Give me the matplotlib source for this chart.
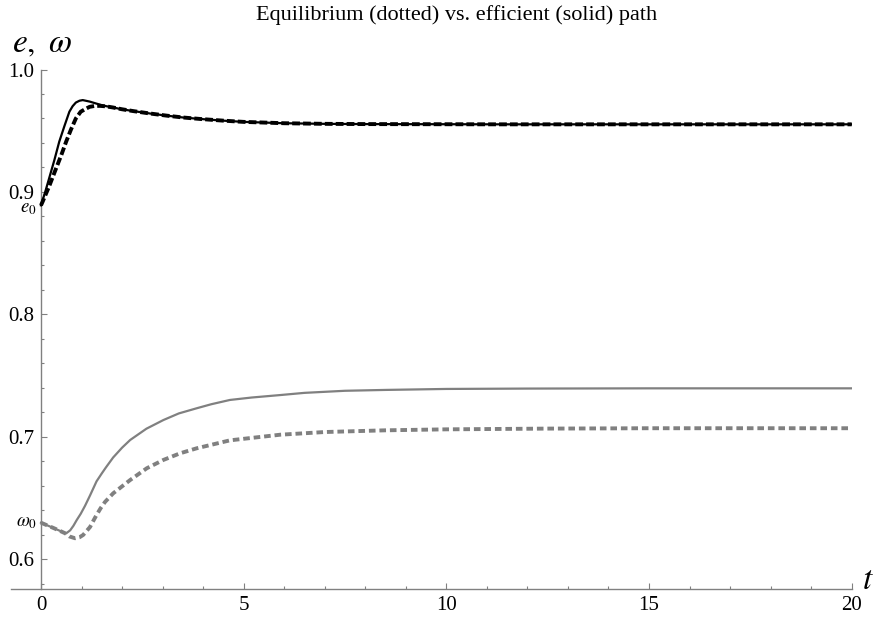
import matplotlib
matplotlib.use("Agg")
import matplotlib.pyplot as plt
from matplotlib.ticker import MultipleLocator, FixedLocator

plt.rcParams['font.family'] = ['Liberation Serif', 'DejaVu Serif']
plt.rcParams['mathtext.fontset'] = 'stix'

# Efficient (solid) path of e
t_e_eff = [0, 0.1, 0.2, 0.33, 0.45, 0.58, 0.70, 0.78, 0.86, 0.95, 1.03, 1.2, 1.36, 1.55, 1.77, 2.0,
           2.28, 2.7, 3.1, 3.5, 3.92, 4.5, 5, 6, 7, 8, 11.3, 15, 20]
e_eff = [0.889, 0.8995, 0.911, 0.926, 0.941, 0.954, 0.9655, 0.970, 0.973, 0.9745, 0.975, 0.9738,
         0.9722, 0.9704, 0.9690, 0.9675, 0.966, 0.9640, 0.9623, 0.9608, 0.9596, 0.9582, 0.9572,
         0.9561, 0.9556, 0.9554, 0.9552, 0.9552, 0.9552]
# Equilibrium (dotted) path of e
t_e_eq = [0, 0.04, 0.2, 0.37, 0.5, 0.62, 0.74, 0.86, 0.98, 1.11, 1.2, 1.32, 1.45, 1.6, 1.77, 2.0,
          2.28, 2.7, 3.1, 3.5, 3.92, 4.5, 5, 6, 7, 8, 11.3, 15, 20]
e_eq = [0.889, 0.892, 0.9045, 0.919, 0.930, 0.941, 0.951, 0.960, 0.9655, 0.968, 0.9695, 0.9702,
        0.9703, 0.9699, 0.9690, 0.9675, 0.966, 0.9640, 0.9623, 0.9608, 0.9596, 0.9582, 0.9572,
        0.9561, 0.9556, 0.9554, 0.9552, 0.9552, 0.9552]
# Efficient (solid) path of omega
t_w_eff = [0, 0.15, 0.3, 0.45, 0.62, 0.72, 0.8, 0.88, 0.98, 1.086, 1.21, 1.37, 1.5, 1.6, 1.78, 2.0,
           2.2, 2.6, 3.02, 3.4, 3.84, 4.2, 4.66, 5.2, 5.9, 6.5, 7.5, 8.5, 10, 12, 15, 20]
w_eff = [0.6297, 0.6276, 0.6255, 0.6233, 0.621, 0.6235, 0.6272, 0.6318, 0.6370, 0.6435, 0.6520,
         0.6635, 0.6700, 0.6748, 0.6830, 0.6910, 0.6973, 0.7065, 0.7136, 0.7190, 0.7232, 0.7265,
         0.730, 0.7320, 0.734, 0.7358, 0.7375, 0.7382, 0.739, 0.7393, 0.7395, 0.7395]
# Equilibrium (dotted) path of omega
t_w_eq = [0, 0.15, 0.3, 0.45, 0.6, 0.7, 0.84, 0.95, 1.04, 1.21, 1.3, 1.37, 1.47, 1.58, 1.78, 2.2,
          2.61, 3.02, 3.43, 3.84, 4.66, 5.9, 7, 8.5, 10, 12.5, 15, 20]
w_eq = [0.6297, 0.6276, 0.6255, 0.6233, 0.6210, 0.6185, 0.617, 0.6178, 0.6197, 0.6262, 0.6318,
        0.6360, 0.6415, 0.6467, 0.6537, 0.6646, 0.6742, 0.681, 0.6864, 0.6905, 0.697, 0.7016,
        0.7038, 0.7052, 0.706, 0.7066, 0.7069, 0.7069]

e0 = 0.889
w0 = 0.6297
y_ticks = [0.6, 0.7, 0.8, 0.9, 1.0]
x_ticks = [0, 5, 10, 15, 20]

W, H = 877, 617
fig = plt.figure(figsize=(W/100, H/100), dpi=100)
ax = fig.add_axes([11/W, (H-589.3)/H, (851.7-11)/W, (589.3-69.5)/H])
ax.set_xlim(-0.74, 20)
ax.set_ylim(0.5753, 1.0)

gray = '#808080'
ax.plot(t_e_eff, e_eff, color='black', lw=1.6, solid_joinstyle='round', zorder=3)
ax.plot(t_e_eq, e_eq, color='black', lw=2.8, dashes=(2.0, 0.8), zorder=4)
ax.plot(t_w_eff, w_eff, color=gray, lw=1.6, solid_joinstyle='round', zorder=3)
ax.plot(t_w_eq, w_eq, color=gray, lw=2.8, dashes=(1.7, 1.0), zorder=4)

for s in ['top', 'right']:
    ax.spines[s].set_visible(False)
ax.spines['left'].set_position(('data', 0))
for s in ['left', 'bottom']:
    ax.spines[s].set_color(gray)
    ax.spines[s].set_linewidth(1.0)
ax.spines['left'].set_bounds(0.5753, 1.0)

ax.xaxis.set_major_locator(FixedLocator(x_ticks))
ax.xaxis.set_minor_locator(MultipleLocator(1))
ax.yaxis.set_major_locator(FixedLocator(y_ticks))
ax.yaxis.set_minor_locator(MultipleLocator(0.02))
ax.set_xticklabels([str(v) for v in x_ticks])
ax.set_yticklabels(['%.1f' % v for v in y_ticks])
ax.tick_params(which='both', direction='in', color=gray, labelsize=15, labelcolor='black')
ax.tick_params(which='major', length=4.2, width=0.8, pad=5)
ax.tick_params(which='minor', length=2.4, width=0.8)

# special tick labels
ax.text(-0.1, 0.8862, r'$e_0$', ha='right', va='center', fontsize=13.5)
ax.text(-0.1, w0, r'$\omega_0$', ha='right', va='center', fontsize=13.5)

# axis labels
fig.text(12/W, 1 - 52/H, r'$e,\ \omega$', ha='left', va='baseline', fontsize=24)
ax.text(20.25, 0.5753, r'$t$', ha='left', va='baseline', fontsize=24)

fig.text(457/W, 1 - 20/H, 'Equilibrium (dotted) vs. efficient (solid) path',
         ha='center', va='baseline', fontsize=16)

fig.savefig('out.png', dpi=100)
